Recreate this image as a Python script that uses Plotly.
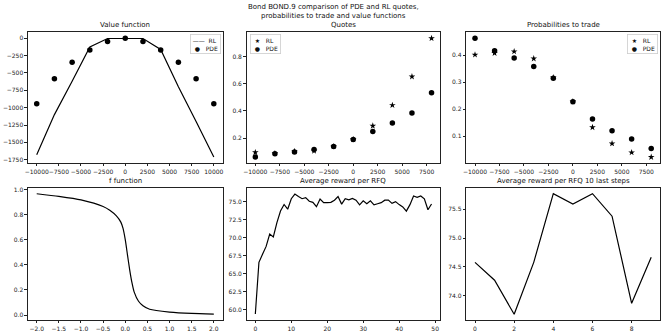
import plotly.graph_objects as go

# ---------------- data ----------------
inv_vf = [-10000, -8000, -6000, -4000, -2000, 0, 2000, 4000, 6000, 8000, 10000]
vf_rl = [-1680, -1100, -620, -125, -3, 0, -3, -160, -700, -1200, -1712]
vf_pde = [-943, -585, -344, -170, -47, 0, -47, -170, -344, -585, -943]

inv_q = [-10000, -8000, -6000, -4000, -2000, 0, 2000, 4000, 6000, 8000]
quote_rl = [0.094, 0.087, 0.102, 0.105, 0.138, 0.19, 0.29, 0.442, 0.653, 0.935]
quote_pde = [0.060, 0.085, 0.097, 0.115, 0.137, 0.190, 0.248, 0.311, 0.384, 0.534]

prob_rl = [0.401, 0.407, 0.413, 0.387, 0.317, 0.228, 0.133, 0.073, 0.040, 0.023]
prob_pde = [0.462, 0.416, 0.389, 0.358, 0.314, 0.227, 0.164, 0.120, 0.090, 0.055]

f_x = [-2.0, -1.5, -1.0, -0.5, -0.35, -0.2, -0.1, -0.05, 0.0, 0.05, 0.1, 0.15,
       0.2, 0.3, 0.4, 0.55, 1.0, 1.5, 2.0]
f_y = [0.966, 0.945, 0.917, 0.865, 0.835, 0.79, 0.74, 0.69, 0.60, 0.48, 0.36,
       0.26, 0.185, 0.11, 0.074, 0.046, 0.024, 0.013, 0.008]

reward = [59.45, 66.6, 67.7, 68.8, 70.5, 70.1, 72.1, 73.7, 74.6, 73.95,
          75.4, 76.05, 75.7, 75.4, 75.55, 75.05, 74.9, 74.3, 75.35, 74.85,
          74.85, 74.9, 75.2, 75.7, 74.65, 75.4, 75.25, 75.45, 75.2, 74.55,
          75.1, 74.7, 75.1, 74.55, 74.7, 74.85, 75.2, 75.2, 74.75, 75.0,
          74.58, 74.27, 73.68, 74.58, 75.77, 75.59, 75.77, 75.38, 73.87, 74.67]
last_n = 10

main_title = ["Bond BOND.9 comparison of PDE and RL quotes,",
              "probabilities to trade and value functions"]
titles = ["Value function", "Quotes", "Probabilities to trade",
          "f function", "Average reward per RFQ", "Average reward per RFQ 10 last steps"]

vf_xticks = [-10000, -7500, -5000, -2500, 0, 2500, 5000, 7500, 10000]
q_xticks = [-10000, -7500, -5000, -2500, 0, 2500, 5000, 7500]

# ---------------- layout ----------------
W, H = 664, 332
FONT = "DejaVu Sans"
cols = [(25, 221), (245, 440), (466, 661)]
rows = [(30.5, 162), (187, 320)]


def px_x(a, b):
    return [a / W, b / W]


def px_y(t, b):
    return [1 - b / H, 1 - t / H]


def fmt_int(v):
    return ("\u2212" if v < 0 else "") + str(abs(int(v)))


fig = go.Figure()

line_kw = dict(color="black", width=1.2)
dot_kw = dict(color="black", size=5.5, symbol="circle")
star_kw = dict(color="black", size=5, symbol="star")

fig.add_trace(go.Scatter(x=inv_vf, y=vf_rl, mode="lines", name="RL", line=line_kw,
                         xaxis="x", yaxis="y"))
fig.add_trace(go.Scatter(x=inv_vf, y=vf_pde, mode="markers", name="PDE", marker=dot_kw,
                         xaxis="x", yaxis="y"))
fig.add_trace(go.Scatter(x=inv_q, y=quote_rl, mode="markers", name="RL", marker=star_kw,
                         xaxis="x2", yaxis="y2"))
fig.add_trace(go.Scatter(x=inv_q, y=quote_pde, mode="markers", name="PDE", marker=dot_kw,
                         xaxis="x2", yaxis="y2"))
fig.add_trace(go.Scatter(x=inv_q, y=prob_rl, mode="markers", name="RL", marker=star_kw,
                         xaxis="x3", yaxis="y3"))
fig.add_trace(go.Scatter(x=inv_q, y=prob_pde, mode="markers", name="PDE", marker=dot_kw,
                         xaxis="x3", yaxis="y3"))
fig.add_trace(go.Scatter(x=f_x, y=f_y, mode="lines",
                         line=dict(color="black", width=1.2, shape="spline", smoothing=0.6),
                         xaxis="x4", yaxis="y4"))
fig.add_trace(go.Scatter(x=list(range(len(reward))), y=reward, mode="lines", line=line_kw,
                         xaxis="x5", yaxis="y5"))
fig.add_trace(go.Scatter(x=list(range(last_n)), y=reward[-last_n:], mode="lines", line=line_kw,
                         xaxis="x6", yaxis="y6"))

axis_common = dict(showgrid=False, zeroline=False, showline=True, mirror=True,
                   linecolor="#222", linewidth=0.8, ticks="outside", ticklen=2.5,
                   tickwidth=0.8, tickcolor="#222", tickangle=0,
                   tickfont=dict(size=6, family=FONT, color="#222"))

specs = [
    dict(col=0, row=0, xr=[-11000, 11000], xt=vf_xticks, xtt=[fmt_int(v) for v in vf_xticks],
         yr=[-1798, 86], yt=list(range(-1750, 1, 250)), ytt=[fmt_int(v) for v in range(-1750, 1, 250)]),
    dict(col=1, row=0, xr=[-10900, 8900], xt=q_xticks, xtt=[fmt_int(v) for v in q_xticks],
         yr=[0.016, 0.979], yt=[0.2, 0.4, 0.6, 0.8], yfmt=".1f"),
    dict(col=2, row=0, xr=[-10900, 8900], xt=q_xticks, xtt=[fmt_int(v) for v in q_xticks],
         yr=[0.001, 0.484], yt=[0.0, 0.1, 0.2, 0.3, 0.4], yfmt=".1f"),
    dict(col=0, row=1, xr=[-2.2, 2.2], xt=[-2.0, -1.5, -1.0, -0.5, 0.0, 0.5, 1.0, 1.5, 2.0],
         yr=[-0.04, 1.013], yt=[0.0, 0.2, 0.4, 0.6, 0.8, 1.0], yfmt=".1f", xfmt=".1f"),
    dict(col=1, row=1, xr=[-2.45, 51.45], xt=[0, 10, 20, 30, 40, 50],
         yr=[58.6, 76.9], yt=[60.0, 62.5, 65.0, 67.5, 70.0, 72.5, 75.0], yfmt=".1f"),
    dict(col=2, row=1, xr=[-0.45, 9.45], xt=[0, 2, 4, 6, 8],
         yr=[73.58, 75.87], yt=[74.0, 74.5, 75.0, 75.5], yfmt=".1f"),
]

annotations = []
for i, s in enumerate(specs, start=1):
    c = cols[s["col"]]
    r = rows[s["row"]]
    xa = dict(axis_common, domain=px_x(*c), range=s["xr"], tickvals=s["xt"],
              anchor="y" if i == 1 else f"y{i}")
    if s.get("xtt"):
        xa["ticktext"] = s["xtt"]
    if s.get("xfmt"):
        xa["tickformat"] = s["xfmt"]
    ya = dict(axis_common, domain=px_y(*r), range=s["yr"], tickvals=s["yt"],
              anchor="x" if i == 1 else f"x{i}")
    if s.get("ytt"):
        ya["ticktext"] = s["ytt"]
    if s.get("yfmt"):
        ya["tickformat"] = s["yfmt"]
    fig.layout["xaxis" if i == 1 else f"xaxis{i}"] = xa
    fig.layout["yaxis" if i == 1 else f"yaxis{i}"] = ya
    annotations.append(dict(text=titles[i - 1], x=(c[0] + c[1]) / 2 / W, y=1 - r[0] / H,
                            xref="paper", yref="paper", xanchor="center", yanchor="bottom",
                            yshift=1, showarrow=False, font=dict(size=7, family=FONT, color="#111")))

for k, line in enumerate(main_title):
    annotations.append(dict(text=line, x=0.5, y=1 - (5 + 9 * k) / H, xref="paper", yref="paper",
                            xanchor="center", yanchor="middle", showarrow=False,
                            font=dict(size=7, family=FONT, color="#111")))

# legends (text keys in bordered boxes, matplotlib style)
NB = "\u00a0"
leg_text_line = "——" + NB * 2 + "RL<br>" + NB + "●" + NB * 3 + "PDE"
leg_text_star = NB + "★" + NB * 3 + "RL<br>" + NB + "●" + NB * 3 + "PDE"
leg_common = dict(xref="paper", yref="paper", yanchor="top", showarrow=False, align="left",
                  bordercolor="#ccc", borderwidth=0.8, borderpad=2, bgcolor="rgba(255,255,255,0.8)",
                  font=dict(size=6, family=FONT, color="#111"))
annotations.append(dict(leg_common, text=leg_text_line, x=219 / W, xanchor="right", y=1 - 32 / H))
annotations.append(dict(leg_common, text=leg_text_star, x=248 / W, xanchor="left", y=1 - 32 / H))
annotations.append(dict(leg_common, text=leg_text_star, x=659 / W, xanchor="right", y=1 - 32 / H))

fig.update_layout(
    width=W, height=H, margin=dict(l=0, r=0, t=0, b=0),
    paper_bgcolor="white", plot_bgcolor="white",
    font=dict(family=FONT, size=6, color="#111"),
    annotations=annotations,
    showlegend=False,
)

fig.write_html("out.html", config={"displayModeBar": False},
               post_script="document.body.style.margin='0';")
